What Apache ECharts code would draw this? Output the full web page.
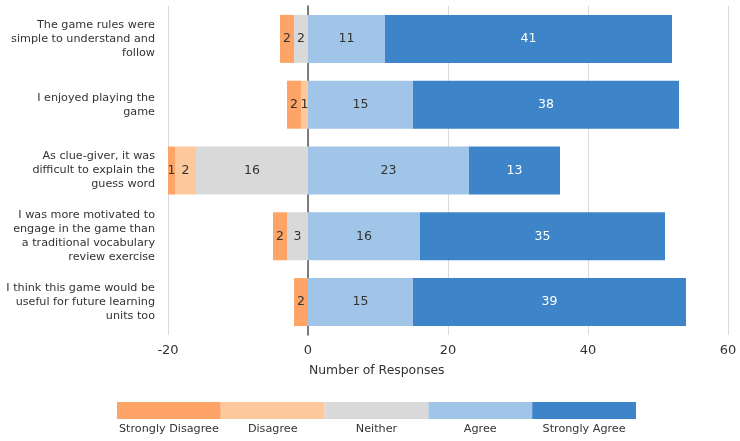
<!DOCTYPE html>
<html>
<head>
<meta charset="utf-8">
<script src="https://cdn.jsdelivr.net/npm/echarts@6/dist/echarts.min.js"></script>
<style>html,body{margin:0;padding:0;background:#fff}#c{width:740px;height:441px}</style>
</head>
<body>
<div id="c"></div>
<script>
const categories = [
  "The game rules were\nsimple to understand and\nfollow",
  "I enjoyed playing the\ngame",
  "As clue-giver, it was\ndifficult to explain the\nguess word",
  "I was more motivated to\nengage in the game than\na traditional vocabulary\nreview exercise",
  "I think this game would be\nuseful for future learning\nunits too"
];
const legendNames = ["Strongly Disagree", "Disagree", "Neither", "Agree", "Strongly Agree"];
const stronglyDisagree = [2, 2, 1, 2, 2];
const disagree = [0, 1, 3, 0, 0];
const disagreeLabels = [0, 1, 2, 0, 0];
const neither = [2, 0, 16, 3, 0];
const agree = [11, 15, 23, 16, 15];
const stronglyAgree = [41, 38, 13, 35, 39];
const xTicks = [-20, 0, 20, 40, 60];

const colors = {
  "Strongly Disagree": "#FDA466",
  "Disagree": "#FDC89C",
  "Neither": "#D9D9D9",
  "Agree": "#A0C5E8",
  "Strongly Agree": "#3D85C8"
};
const FONT = "DejaVu Sans";

function mkSeries(name, vals, neg, labels, labelColor) {
  return {
    name: name, type: 'bar', stack: 'total', barWidth: 48,
    xAxisIndex: 0, yAxisIndex: 0,
    itemStyle: { color: colors[name] },
    label: {
      show: true, position: 'inside', fontFamily: FONT, fontSize: 12.5, color: labelColor,
      formatter: p => { const v = (labels || vals)[p.dataIndex]; return v ? String(v) : ''; }
    },
    data: vals.map(v => neg ? -v : v)
  };
}

const chart = echarts.init(document.getElementById('c'), null, { renderer: 'canvas' });
chart.setOption({
  animation: false,
  textStyle: { fontFamily: FONT },
  grid: [
    { left: 168, right: 12, top: 6, bottom: 106, containLabel: false, outerBoundsMode: 'none' },
    { left: 117, width: 519, top: 402, height: 17, containLabel: false, outerBoundsMode: 'none' }
  ],
  xAxis: [
    {
      type: 'value', gridIndex: 0, min: xTicks[0], max: xTicks[xTicks.length - 1], interval: 20,
      axisLine: { show: false }, axisTick: { show: false },
      splitLine: { show: true, lineStyle: { color: '#DADADA', width: 1 } },
      axisLabel: { fontFamily: FONT, fontSize: 13, color: '#333', margin: 9 }
    },
    {
      type: 'category', gridIndex: 1, data: legendNames,
      axisLine: { show: false }, axisTick: { show: false },
      axisLabel: { fontFamily: FONT, fontSize: 11.2, color: '#333', margin: 5, interval: 0 }
    }
  ],
  yAxis: [
    {
      type: 'category', gridIndex: 0, inverse: true, data: categories,
      axisLine: { show: true, onZero: true, lineStyle: { color: '#555', width: 1.5 } },
      axisTick: { show: false },
      axisLabel: { fontFamily: FONT, fontSize: 11.2, color: '#333', margin: 13, align: 'right', lineHeight: 14 }
    },
    { type: 'value', gridIndex: 1, min: 0, max: 1, show: false }
  ],
  graphic: [
    { type: 'text', left: 309, top: 365, style: { text: 'Number of Responses', fontFamily: FONT, fontSize: 12.4, fill: '#333' } }
  ],
  series: [
    mkSeries('Neither', neither, true, null, '#333'),
    mkSeries('Disagree', disagree, true, disagreeLabels, '#333'),
    mkSeries('Strongly Disagree', stronglyDisagree, true, null, '#333'),
    mkSeries('Agree', agree, false, null, '#333'),
    mkSeries('Strongly Agree', stronglyAgree, false, null, '#fff'),
    {
      type: 'bar', xAxisIndex: 1, yAxisIndex: 1, barCategoryGap: 0, silent: true,
      data: legendNames.map(n => ({ value: 1, itemStyle: { color: colors[n] } }))
    }
  ]
});
</script>
</body>
</html>
